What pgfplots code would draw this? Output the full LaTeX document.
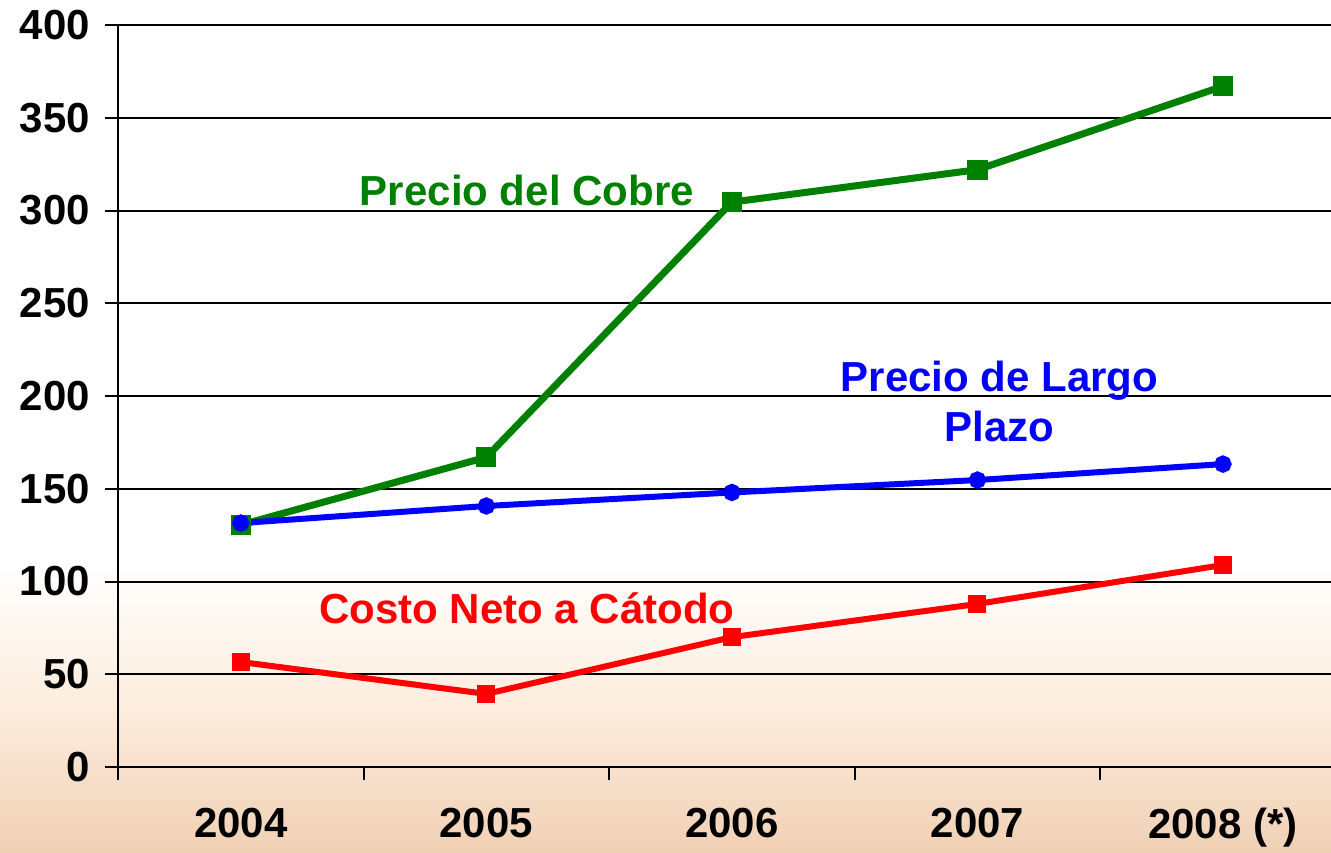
\documentclass[border=0pt]{standalone}
\usepackage{pgfplots}
\pgfplotsset{compat=1.18}
\usepackage{fontspec}
\setmainfont{Liberation Sans}
\definecolor{cgreen}{RGB}{0,128,0}
\definecolor{cblue}{RGB}{0,0,255}
\definecolor{cred}{RGB}{255,0,0}
\definecolor{peach}{RGB}{240,208,180}
\definecolor{peachlight}{RGB}{252,236,220}
\begin{document}
\begin{tikzpicture}
\useasboundingbox (0,0) rectangle (665.5pt,426pt);
\shade[top color=peachlight, bottom color=peach] (0,0) rectangle (665.5pt,70pt);
\shade[top color=white, bottom color=peachlight] (0,70pt) rectangle (665.5pt,145pt);
\begin{axis}[
  at={(59pt,42.5pt)}, anchor=south west,
  scale only axis, width=606.5pt, height=371pt,
  xmin=-0.5, xmax=4.44, ymin=0, ymax=400,
  axis lines*=left,
  axis line style={line width=1pt, black},
  ytick={0,50,...,400},
  ymajorgrids, grid style={line width=1pt, black},
  tick align=outside, major tick length=6.5pt,
  tick style={line width=1pt, black},
  xtick={-0.5,0.5,1.5,2.5,3.5}, xticklabels={},
  extra x ticks={0,1,2,3,4},
  extra x tick labels={2004,2005,2006,2007,2008 (*)},
  extra x tick style={major tick length=0pt, grid=none,
     xticklabel style={yshift=-17pt}},
  font=\fontsize{21}{25}\selectfont\bfseries,
  ticklabel style={font=\fontsize{21}{25}\selectfont\bfseries},
  /pgf/number format/assume math mode=true,
  yticklabel style={xshift=-4pt},
  clip=false,
]
\addplot[cgreen, line width=3.5pt, mark=square*, mark size=3.3pt, mark options={solid}] coordinates {
 (0,130.5) (1,167) (2,304.5) (3,322) (4,367)};
\addplot[cblue, line width=3pt, mark=*, mark size=2.8pt] coordinates {
 (0,131.5) (1,140.7) (2,148) (3,154.7) (4,163.3)};
\addplot[cred, line width=3pt, mark=square*, mark size=3pt] coordinates {
 (0,56.6) (1,39.4) (2,70) (3,87.9) (4,108.9)};
\node[text=cgreen, font=\fontsize{21}{25}\selectfont\bfseries] at (axis cs:1.165,311) {Precio del Cobre};
\node[text=cblue, font=\fontsize{21}{25}\selectfont\bfseries, align=center] at (axis cs:3.09,197) {Precio de Largo\\Plazo};
\node[text=cred, font=\fontsize{21}{25}\selectfont\bfseries] at (axis cs:1.165,85.7) {Costo Neto a Cátodo};
\end{axis}
\end{tikzpicture}
\end{document}
